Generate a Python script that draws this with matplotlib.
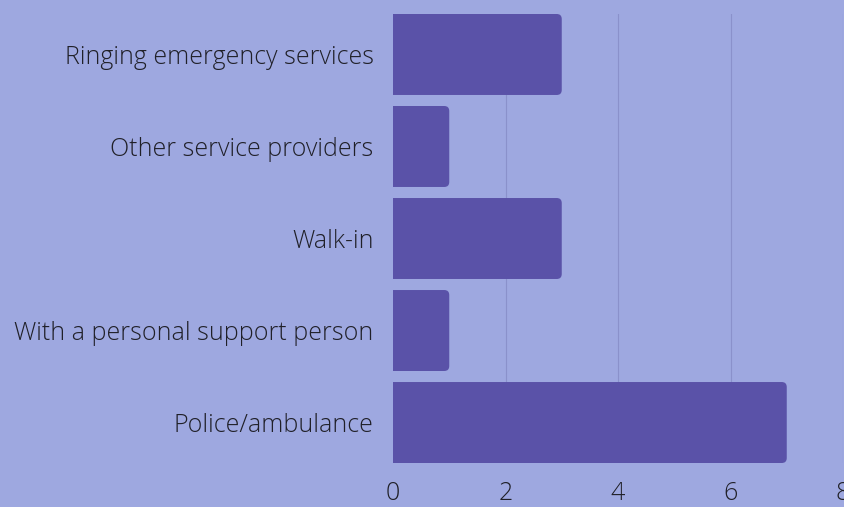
import matplotlib.pyplot as plt
from matplotlib.patches import FancyBboxPatch

categories = ['Ringing emergency services', 'Other service providers', 'Walk-in',
              'With a personal support person', 'Police/ambulance']
values = [3, 1, 3, 1, 7]
xticks = [0, 2, 4, 6, 8]

BG = '#9ea8e0'
BAR = '#5a52a8'
GRID = '#8a91cb'
TXT = '#202028'

plt.rcParams['font.family'] = ['Open Sans', 'DejaVu Sans']

fig = plt.figure(figsize=(8.44, 5.07), dpi=100, facecolor=BG)
ax = fig.add_axes([393 / 844, 44 / 507, 450 / 844, 449 / 507], facecolor=BG)

ax.set_xlim(0, 8)
ax.set_ylim(len(categories) - 1 + 0.44, -0.44)

h = 0.88
rx = 5 / 56.25
ry = 5 / 92
for i, v in enumerate(values):
    p = FancyBboxPatch((-0.3, i - h / 2), v + 0.3, h,
                       boxstyle='round,pad=0,rounding_size=%f' % rx,
                       mutation_aspect=ry / rx,
                       facecolor=BAR, edgecolor='none', zorder=3)
    ax.add_patch(p)

ax.set_yticks(range(len(categories)))
ax.set_yticklabels(categories, fontsize=18, color=TXT, fontweight='light')
ax.set_xticks(xticks)
ax.set_xticklabels([str(t) for t in xticks], fontsize=18, color=TXT, fontweight='light')
ax.tick_params(axis='y', length=0, pad=14)
ax.tick_params(axis='x', length=0, pad=13)

for t in xticks[1:]:
    ax.axvline(t, color=GRID, linewidth=0.8, zorder=1)

for s in ax.spines.values():
    s.set_visible(False)

fig.savefig('out.png', dpi=100, facecolor=BG)
